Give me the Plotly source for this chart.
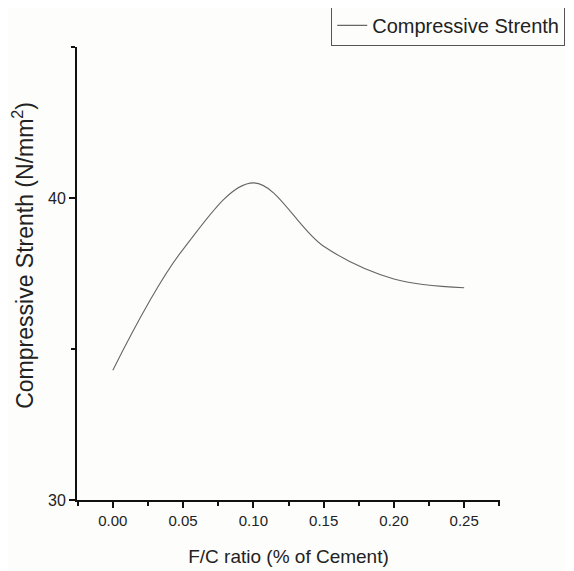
import plotly.graph_objects as go

fc_ratio = [0.00, 0.05, 0.10, 0.15, 0.20, 0.25]
strength = [34.3, 38.3, 40.5, 38.4, 37.32, 37.03]
y_ticks = [30, 40]
x_ticks = [0.00, 0.05, 0.10, 0.15, 0.20, 0.25]

bg = "#fdfdfb"
fig = go.Figure()
fig.add_trace(go.Scatter(
    x=fc_ratio, y=strength, mode="lines", name="Compressive Strenth",
    line=dict(color="#666666", width=1.1, shape="spline", smoothing=1.0),
))
# page body adds an 8px offset, so the figure is sized/margined to compensate
fig.update_layout(
    width=566, height=563,
    margin=dict(l=69, r=74, t=39, b=71, autoexpand=False),
    paper_bgcolor=bg, plot_bgcolor=bg,
    font=dict(family="Liberation Sans, Arial", color="#222222"),
    showlegend=True,
    legend=dict(
        x=0.601, y=1.093, xanchor="left", yanchor="top",
        bordercolor="#555555", borderwidth=1, bgcolor=bg,
        font=dict(size=20, family="Liberation Sans, Arial"),
        itemwidth=30, tracegroupgap=0,
    ),
    xaxis=dict(
        range=[-0.0255, 0.2755], tickvals=x_ticks,
        ticktext=[f"{v:.2f}" for v in x_ticks],
        showgrid=False, zeroline=False, showline=True, linecolor="#111111", linewidth=2,
        ticks="outside", ticklen=6, tickwidth=2, tickcolor="#111111",
        minor=dict(dtick=0.025, tick0=0, ticks="outside", ticklen=4, tickwidth=1.5, tickcolor="#111111"),
        tickfont=dict(size=15),
        title=dict(text="F/C ratio (% of Cement)", font=dict(size=19), standoff=22),
    ),
    yaxis=dict(
        range=[30, 45], tickvals=y_ticks,
        showgrid=False, zeroline=False, showline=True, linecolor="#111111", linewidth=2,
        ticks="outside", ticklen=6, tickwidth=2, tickcolor="#111111",
        minor=dict(dtick=5, tick0=30, ticks="outside", ticklen=4, tickwidth=1.5, tickcolor="#111111"),
        tickfont=dict(size=16),
    ),
    annotations=[dict(
        text="Compressive Strenth (N/mm<sup>2</sup>)", textangle=-90,
        xref="paper", yref="paper", x=-0.128, y=0.541,
        xanchor="center", yanchor="middle", showarrow=False,
        font=dict(size=23, family="Liberation Sans, Arial", color="#222222"),
    )],
)
fig.write_html("out.html")
